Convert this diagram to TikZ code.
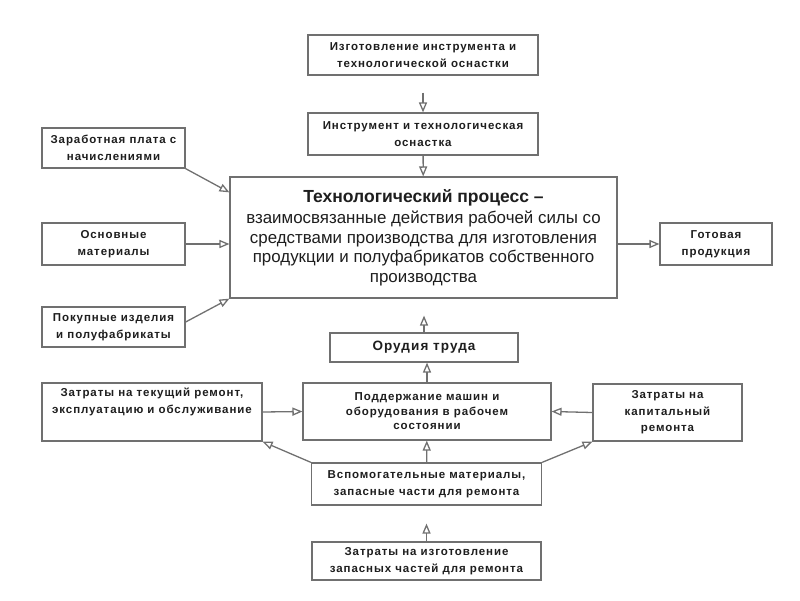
\documentclass[tikz,border=0pt]{standalone}
\usepackage{fontspec}
\setmainfont{Liberation Sans}
\newfontfamily\boxfont[LetterSpace=8]{Liberation Sans}
\usetikzlibrary{positioning, arrows}

\definecolor{boxgray}{HTML}{707070}
\definecolor{txtgray}{HTML}{1E1E1E}

\tikzset{
  block/.style={draw=boxgray, line width=1.3pt, fill=white, align=center,
    text=txtgray, font=\boxfont\fontsize{11.5}{17}\selectfont\bfseries, inner sep=2pt},
  flow/.style={draw=boxgray, line width=1.3pt, -open triangle 45}
}

\begin{document}
\begin{tikzpicture}[x=1pt, y=-1pt]
\useasboundingbox (0,0) rectangle (800,600);

% upper column
\node[block, minimum width=230pt, minimum height=40pt] (toolmake) at (423,55)
  {Изготовление инструмента и\\технологической оснастки};
\node[block, minimum width=230pt, minimum height=42pt] (tool) at (423,134)
  {Инструмент и технологическая\\оснастка};
\node[block, minimum width=387pt, minimum height=121pt, font=\fontsize{16.9}{19.5}\selectfont] (proc) at (423.5,237.5)
  {{\fontsize{17.5}{19.5}\selectfont\bfseries Технологический процесс –}\\[2pt]
   взаимосвязанные действия рабочей силы со\\
   средствами производства для изготовления\\
   продукции и полуфабрикатов собственного\\
   производства};

% inputs on the left
\node[block, minimum width=143pt, minimum height=40pt] (wage) at (113.5,148)
  {Заработная плата с\\начислениями};
\node[block, minimum width=143pt, minimum height=42pt] (mater) at (113.5,244)
  {Основные\\материалы};
\node[block, minimum width=143pt, minimum height=40pt] (bought) at (113.5,327)
  {Покупные изделия\\и полуфабрикаты};

% output
\node[block, minimum width=112pt, minimum height=42pt] (ready) at (716,244)
  {Готовая\\продукция};

% lower part
\node[block, minimum width=188pt, minimum height=29pt, font=\boxfont\fontsize{13.5}{17}\selectfont\bfseries] (labor) at (424,347.5)
  {Орудия труда};
\node[block, minimum width=248pt, minimum height=57pt, font=\boxfont\fontsize{11.5}{14.5}\selectfont\bfseries] (maint) at (427,411.5)
  {Поддержание машин и\\оборудования в рабочем\\состоянии};
\node[block, minimum width=220pt, minimum height=58pt] (curr) at (152,412)
  {Затраты на текущий ремонт,\\эксплуатацию и обслуживание\\\strut};
\node[block, minimum width=149pt, minimum height=57pt, font=\boxfont\fontsize{11.5}{16.5}\selectfont\bfseries] (capit) at (667.5,412.5)
  {Затраты на\\капитальный\\ремонта};
\node[block, minimum width=230pt, minimum height=42pt] (aux) at (426.5,484)
  {Вспомогательные материалы,\\запасные части для ремонта};
\node[block, minimum width=229pt, minimum height=38pt] (spare) at (426.5,561)
  {Затраты на изготовление\\запасных частей для ремонта};

% connectors
\draw[flow, shorten <=17pt] (toolmake) -- (tool);
\draw[flow] (tool) -- (proc);
\draw[flow] (wage.south east) -- ([yshift=-16pt]proc.north west);
\draw[flow] (mater.east) -- (proc.west |- mater.east);
\draw[flow] ([yshift=5pt]bought.east) -- (proc.south west);
\draw[flow] (proc.east |- ready.west) -- (ready.west);
\draw[flow, shorten >=17pt] (labor.north) -- (labor.north |- proc.south);
\draw[flow] (maint.north) -- (maint.north |- labor.south);
\draw[flow] (curr.east) -- (maint.west);
\draw[flow] (capit.west) -- (maint.east);
\draw[flow] (aux) -- (maint);
\draw[flow] (aux.north west) -- (curr.south east);
\draw[flow] (aux.north east) -- (capit.south west);
\draw[flow, shorten >=18pt] (spare) -- (aux);

\end{tikzpicture}
\end{document}
